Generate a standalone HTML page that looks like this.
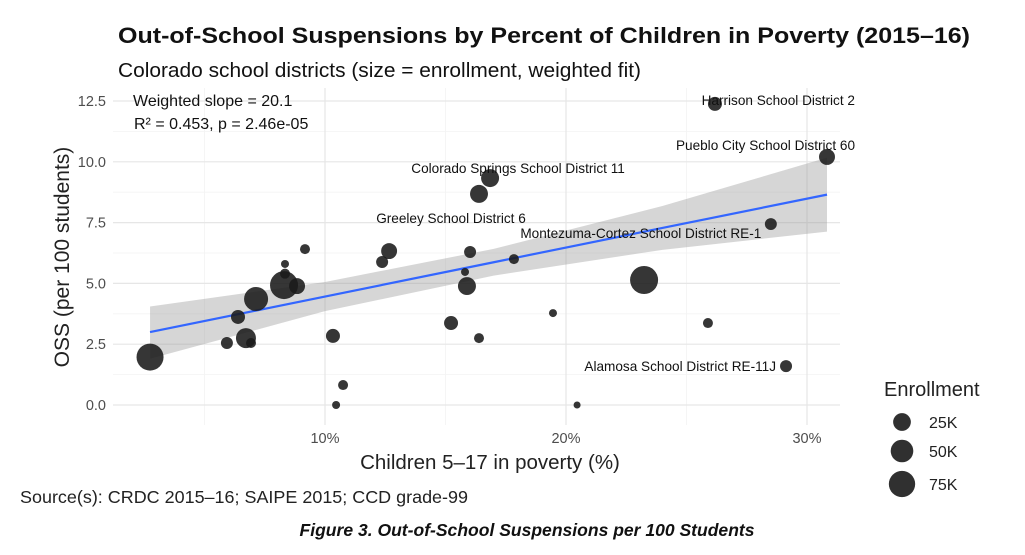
<!DOCTYPE html>
<html><head><meta charset="utf-8"><style>
body{margin:0;background:#fff;}
svg{display:block;font-family:"Liberation Sans",Arial,sans-serif;}
</style></head><body>
<svg id="c" width="1025" height="555" viewBox="0 0 1025 555">
<rect width="1025" height="555" fill="#fff"/>
<text x="118" y="43" font-size="22" font-weight="bold" fill="#111" textLength="852" lengthAdjust="spacingAndGlyphs">Out-of-School Suspensions by Percent of Children in Poverty (2015–16)</text>
<text x="118" y="77" font-size="20.5" fill="#111" textLength="523" lengthAdjust="spacingAndGlyphs">Colorado school districts (size = enrollment, weighted fit)</text>
<g id="grid"></g>
<g id="band"></g>
<g id="pts"></g>
<g id="labels"></g>
<text x="133" y="106" font-size="16" fill="#111">Weighted slope = 20.1</text>
<text x="134" y="129" font-size="16" fill="#111">R² = 0.453, p = 2.46e-05</text>
<text transform="translate(69,257) rotate(-90)" text-anchor="middle" font-size="21" fill="#222">OSS (per 100 students)</text>
<text x="490" y="469" text-anchor="middle" font-size="20.5" fill="#222">Children 5–17 in poverty (%)</text>
<text x="884" y="396" font-size="20" fill="#222">Enrollment</text>
<g id="legend"></g>
<text x="20" y="503" font-size="17.5" fill="#222" textLength="448" lengthAdjust="spacingAndGlyphs">Source(s): CRDC 2015–16; SAIPE 2015; CCD grade-99</text>
<text x="527" y="536" text-anchor="middle" font-size="17.5" font-weight="bold" font-style="italic" fill="#111" textLength="455" lengthAdjust="spacingAndGlyphs">Figure 3. Out-of-School Suspensions per 100 Students</text>
</svg>
<script>
const poverty=[2.74,5.93,6.39,6.72,6.93,7.14,8.30,8.34,8.34,8.84,9.17,10.33,10.46,10.75,12.37,12.66,15.23,15.81,16.02,15.89,16.39,16.39,16.85,17.84,19.46,20.46,23.24,25.89,26.18,28.5,29.13,30.83];
const oss=[1.97,2.55,3.62,2.75,2.55,4.36,4.93,5.80,5.40,4.89,6.41,2.84,0,0.82,5.88,6.33,3.37,5.47,6.29,4.89,2.75,8.68,9.33,6.0,3.78,0,5.14,3.37,12.38,7.44,1.6,10.2];
const enrollment=[80000,6500,11600,35500,2900,59000,88000,730,2900,18000,2900,11600,730,2900,6500,18000,11600,730,6500,26000,2900,26000,26000,2900,730,200,88000,2900,11600,6500,6500,18000];
const fitX=[2.74,10,17,24,30.83];
const fitY=[3.0,4.46,5.87,7.28,8.65];
const bandUpper=[4.05,5.06,6.42,8.18,10.17];
const bandLower=[1.9,3.86,5.32,6.38,7.13];
const xTicks=[10,20,30];
const xTickLabels=["10%","20%","30%"];
const yTicks=[0,2.5,5,7.5,10,12.5];
const yTickLabels=["0.0","2.5","5.0","7.5","10.0","12.5"];
const legendValues=[25000,50000,75000];
const legendLabels=["25K","50K","75K"];
const labelNames=["Harrison School District 2","Pueblo City School District 60","Colorado Springs School District 11","Greeley School District 6","Montezuma-Cortez School District RE-1","Alamosa School District RE-11J"];
const labelX=[26.18,30.83,16.85,16.39,28.5,29.13];
const labelY=[12.38,10.2,9.33,8.68,7.44,1.6];

const NS="http://www.w3.org/2000/svg";
const X0=113,X1=840,Y0=88,Y1=425;
const sx=p=>325+(p-10)*24.1;
const sy=v=>405-v*24.32;
const sr=e=>3+10.5*Math.sqrt(e/80000);
function mk(t,a,parent){const e=document.createElementNS(NS,t);for(const k in a)e.setAttribute(k,a[k]);document.getElementById(parent).appendChild(e);return e;}

for(let v=1.25;v<13;v+=2.5){const l=mk('line',{x1:X0,x2:X1,y1:sy(v),y2:sy(v),stroke:'#f3f3f3','stroke-width':0.8},'grid');

}
for(let p=5;p<32;p+=10){const l=mk('line',{x1:sx(p),x2:sx(p),y1:Y0,y2:Y1,stroke:'#f3f3f3','stroke-width':0.8},'grid');

}
yTicks.forEach((v,i)=>{const l=mk('line',{x1:X0,x2:X1,y1:sy(v),y2:sy(v),stroke:'#e6e6e6','stroke-width':1.2},'grid');


const t=mk('text',{x:106,y:sy(v)+5,'text-anchor':'end','font-size':14.5,fill:'#4d4d4d'},'grid');t.textContent=yTickLabels[i];

});
xTicks.forEach((p,i)=>{const l=mk('line',{x1:sx(p),x2:sx(p),y1:Y0,y2:Y1,stroke:'#e6e6e6','stroke-width':1.2},'grid');


const t=mk('text',{x:sx(p),y:443,'text-anchor':'middle','font-size':14.5,fill:'#4d4d4d'},'grid');t.textContent=xTickLabels[i];

});

let d='M'+fitX.map((p,i)=>sx(p)+','+sy(bandUpper[i])).join('L');
for(let i=fitX.length-1;i>=0;i--)d+='L'+sx(fitX[i])+','+sy(bandLower[i]);
const b=mk('path',{d:d+'Z',fill:'#999',opacity:0.4},'band');


const fl=mk('polyline',{points:fitX.map((p,i)=>sx(p)+','+sy(fitY[i])).join(' '),fill:'none',stroke:'#3366ff','stroke-width':2.2},'band');



poverty.forEach((p,i)=>{const c=mk('circle',{cx:sx(p),cy:sy(oss[i]),r:sr(enrollment[i]),fill:'#1a1a1a','fill-opacity':0.88},'pts');

});

const anchors=['end','end','middle','middle','middle','end'];
const dx=[140,28,28,-28,-130,-10];
const dy=[1,-7,-5,29,14,5];
labelNames.forEach((n,i)=>{const t=mk('text',{x:sx(labelX[i])+dx[i],y:sy(labelY[i])+dy[i],'text-anchor':anchors[i],'font-size':13.6,fill:'#111'},'labels');t.textContent=n;

});

const ly=[422,451,484];
legendValues.forEach((e,i)=>{const c=mk('circle',{cx:902,cy:ly[i],r:sr(e),fill:'#1a1a1a','fill-opacity':0.9},'legend');


const t=mk('text',{x:929,y:ly[i]+6,'font-size':16,fill:'#222'},'legend');t.textContent=legendLabels[i];

});
</script>
</body></html>
